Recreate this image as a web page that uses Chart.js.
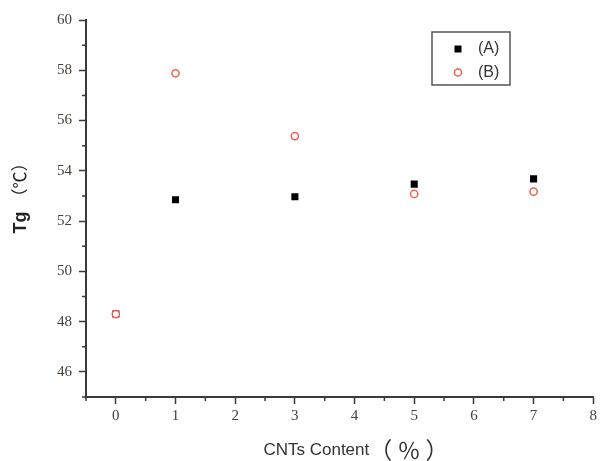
<!DOCTYPE html>
<html>
<head>
<meta charset="utf-8">
<script src="https://cdn.jsdelivr.net/npm/chart.js@4/dist/chart.umd.min.js"></script>
<style>
  html, body { margin: 0; padding: 0; background: #fff; }
  #wrap { width: 600px; height: 461px; position: relative; }
</style>
</head>
<body>
<div id="wrap"><canvas id="c" width="600" height="461"></canvas></div>
<script>
// CNT content (%) and glass transition temperature Tg (°C)
const cntContent = [0, 1, 3, 5, 7];
const tgSeriesA = [48.3, 52.85, 52.97, 53.47, 53.68];
const tgSeriesB = [48.3, 57.88, 55.38, 53.08, 53.17];
const seriesLabels = ['(A)', '(B)'];
const xTickValues = [0, 1, 2, 3, 4, 5, 6, 7, 8];
const yTickValues = [46, 48, 50, 52, 54, 56, 58, 60];
const xMinorValues = [-0.5, 0.5, 1.5, 2.5, 3.5, 4.5, 5.5, 6.5, 7.5];
const yMinorValues = [45, 47, 49, 51, 53, 55, 57, 59];

const axisColor = '#3a3a3a';
const tickFont = { family: '"Liberation Serif", "Times New Roman", serif', size: 15 };

const toPoints = (xs, ys) => xs.map((x, i) => ({ x: x, y: ys[i] }));

// draws a title made of two runs of text with different fonts, centred on (cx, cy)
function drawTwoPartText(ctx, cx, cy, angle, p1, f1, p2, f2, gap) {
  ctx.save();
  ctx.translate(cx, cy);
  ctx.rotate(angle);
  ctx.textBaseline = 'middle';
  ctx.textAlign = 'left';
  ctx.font = f1;
  const w1 = ctx.measureText(p1).width;
  ctx.font = f2;
  const w2 = ctx.measureText(p2).width;
  const x0 = -(w1 + gap + w2) / 2;
  ctx.font = f1;
  ctx.fillText(p1, x0, 0);
  ctx.font = f2;
  ctx.fillText(p2, x0 + w1 + gap, 0);
  ctx.restore();
}

// minor ticks, axis titles and the boxed legend inside the plot
const extras = {
  id: 'extras',
  afterDraw(chart) {
    const ctx = chart.ctx;
    const xs = chart.scales.x, ys = chart.scales.y;
    ctx.save();
    ctx.strokeStyle = axisColor;
    ctx.lineWidth = 1.5;
    ctx.beginPath();
    xMinorValues.forEach(v => {
      const px = xs.getPixelForValue(v);
      ctx.moveTo(px, ys.bottom);
      ctx.lineTo(px, ys.bottom + 4);
    });
    yMinorValues.forEach(v => {
      const py = ys.getPixelForValue(v);
      ctx.moveTo(xs.left, py);
      ctx.lineTo(xs.left - 4, py);
    });
    ctx.stroke();

    ctx.fillStyle = '#222';
    drawTwoPartText(ctx, 21, 194, -Math.PI / 2,
      'Tg', 'bold 18px "Liberation Sans", Arial, sans-serif',
      '（℃）', '17px "Liberation Sans", "Noto Sans CJK SC", sans-serif', 6);

    ctx.fillStyle = '#333';
    drawTwoPartText(ctx, 356, 450, 0,
      'CNTs Content', '17px "Liberation Sans", Arial, sans-serif',
      '（ ％ ）', '23px "Noto Sans CJK SC", sans-serif', 0);

    // legend box, entries listed as (A) then (B)
    const bx = 432, by = 32, bw = 78, bh = 53;
    ctx.strokeStyle = '#555';
    ctx.lineWidth = 1.5;
    ctx.strokeRect(bx, by, bw, bh);
    ctx.font = '16px "Liberation Sans", Arial, sans-serif';
    ctx.textAlign = 'left';
    ctx.textBaseline = 'middle';
    seriesLabels.forEach((lbl, i) => {
      const ds = chart.data.datasets.find(d => d.label === lbl);
      const cy = by + 17 + i * 23.5;
      const cx = bx + 26;
      ctx.lineWidth = ds.borderWidth;
      ctx.strokeStyle = ds.borderColor;
      ctx.fillStyle = ds.backgroundColor;
      if (ds.pointStyle === 'rect') {
        ctx.fillRect(cx - 3.5, cy - 3.5, 7, 7);
      } else {
        ctx.beginPath();
        ctx.arc(cx, cy, ds.pointRadius, 0, Math.PI * 2);
        ctx.fill();
        ctx.stroke();
      }
      ctx.fillStyle = '#333';
      ctx.fillText(lbl, bx + 46, cy);
    });
    ctx.restore();
  }
};

new Chart(document.getElementById('c'), {
  type: 'scatter',
  data: {
    datasets: [
      {
        label: seriesLabels[1],
        data: toPoints(cntContent, tgSeriesB),
        pointStyle: 'circle',
        pointRadius: 3.6,
        borderWidth: 1.5,
        borderColor: '#f0604e',
        backgroundColor: '#ffffff'
      },
      {
        label: seriesLabels[0],
        data: toPoints(cntContent, tgSeriesA),
        pointStyle: 'rect',
        pointRadius: 5,
        borderWidth: 0,
        borderColor: '#000',
        backgroundColor: '#000'
      }
    ]
  },
  options: {
    responsive: false,
    animation: false,
    events: [],
    layout: { padding: { left: 0, top: 20, right: 4, bottom: 0 } },
    plugins: { legend: { display: false }, tooltip: { enabled: false } },
    scales: {
      x: {
        type: 'linear',
        min: -0.5,
        max: 8,
        afterBuildTicks: s => { s.ticks = xTickValues.map(v => ({ value: v })); },
        afterFit: s => { s.height = 64; },
        border: { color: axisColor, width: 2 },
        grid: { drawOnChartArea: false, drawTicks: true, tickLength: 7, tickColor: axisColor, tickWidth: 1.5 },
        ticks: { font: tickFont, color: '#4a4038', padding: 3, maxRotation: 0 }
      },
      y: {
        type: 'linear',
        min: 45,
        max: 60,
        afterBuildTicks: s => { s.ticks = yTickValues.map(v => ({ value: v })); },
        afterFit: s => { s.width = 86; },
        border: { color: axisColor, width: 2 },
        grid: { drawOnChartArea: false, drawTicks: true, tickLength: 7, tickColor: axisColor, tickWidth: 1.5 },
        ticks: { font: tickFont, color: '#4a4038', padding: 7 }
      }
    }
  },
  plugins: [extras]
});
</script>
</body>
</html>
